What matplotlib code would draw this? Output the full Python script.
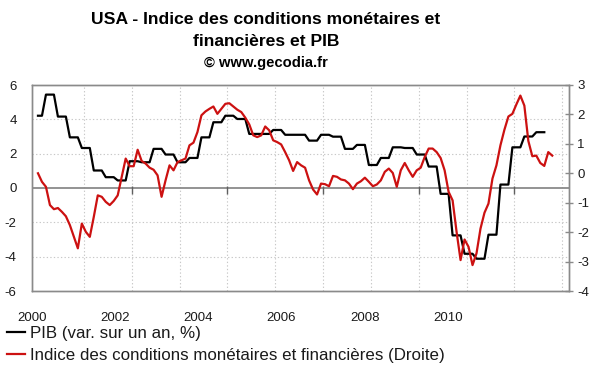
import numpy as np
import matplotlib
matplotlib.use('Agg')
import matplotlib.pyplot as plt
from matplotlib.lines import Line2D

# ---- data -------------------------------------------------------------
# PIB, year-on-year % change, quarterly 2000Q1 .. 2010Q3 (left axis)
pib_quarterly = [
    4.21, 5.44, 4.16, 2.95,
    2.33, 1.02, 0.63, 0.44,
    1.56, 1.50, 2.28, 1.95,
    1.50, 1.75, 2.95, 3.83,
    4.21, 4.02, 3.15, 3.15,
    3.38, 3.10, 3.10, 2.76,
    3.10, 2.99, 2.28, 2.51,
    1.34, 1.75, 2.37, 2.33,
    1.95, 1.25, -0.34, -2.76,
    -3.83, -4.12, -2.72, 0.20,
    2.37, 3.00, 3.25,
]

# Indice des conditions monetaires et financieres, monthly (right axis)
icmf_monthly = [
    0.00, -0.29, -0.46, -1.08, -1.22, -1.18, -1.31, -1.46, -1.76, -2.16,
    -2.55, -1.71, -1.99, -2.16, -1.48, -0.75, -0.80, -0.97, -1.08, -0.94,
    -0.75, -0.12, 0.50, 0.24, 0.24, 0.80, 0.42, 0.33, 0.19, 0.12,
    -0.07, -0.80, -0.24, 0.27, 0.10, 0.38, 0.44, 0.50, 0.95, 1.04,
    1.40, 1.97, 2.10, 2.19, 2.27, 2.02, 2.19, 2.36, 2.38, 2.27,
    2.16, 2.08, 1.89, 1.66, 1.29, 1.23, 1.29, 1.59, 1.46, 1.12,
    1.06, 0.98, 0.72, 0.44, 0.08, 0.38, 0.27, 0.19, -0.24, -0.55,
    -0.72, -0.35, -0.37, -0.44, -0.09, -0.12, -0.21, -0.24, -0.35, -0.54,
    -0.35, -0.27, -0.15, -0.29, -0.44, -0.38, -0.24, 0.05, 0.16, 0.01,
    -0.46, 0.10, 0.35, 0.10, -0.12, 0.10, 0.19, 0.55, 0.84, 0.84,
    0.72, 0.52, 0.10, -0.63, -0.92, -1.99, -2.95, -2.25, -2.50, -3.12,
    -2.72, -1.88, -1.34, -1.03, -0.18, 0.27, 0.95, 1.48, 1.93, 2.02,
    2.34, 2.64, 2.30, 1.10, 0.58, 0.60, 0.35, 0.25, 0.72, 0.60,
]

year_labels = ['2000', '2002', '2004', '2006', '2008', '2010']
left_ticks = [-6, -4, -2, 0, 2, 4, 6]
right_ticks = [-4, -3, -2, -1, 0, 1, 2, 3]

series_names = ['PIB (var. sur un an, %)',
                'Indice des conditions monétaires et financières (Droite)']
title_lines = ['USA - Indice des conditions monétaires et',
               'financières et PIB']
credit = '© www.gecodia.fr'

# ---- style ------------------------------------------------------------
plt.rcParams['font.family'] = ['Liberation Sans', 'DejaVu Sans']
BLACK = '#000000'
RED = '#cc1111'
GRID = '#c8c8c8'
FRAME = '#8a8a8a'
TXT = '#1a1a1a'

pib_monthly = np.repeat(pib_quarterly, 3)[1:]
m_pib = np.arange(len(pib_monthly))
m_icmf = np.arange(len(icmf_monthly))

W, H = 600, 372
fig = plt.figure(figsize=(W / 100, H / 100), dpi=100)
fig.patch.set_facecolor('white')
ax = fig.add_axes([32 / W, 1 - 291 / H, (569 - 32) / W, (291 - 85) / H])
ax2 = ax.twinx()

ax.set_xlim(-0.5, 133.2)
ax.set_ylim(-6, 6)
ax2.set_ylim(-4, 3)

# grid: yearly vertical dotted lines, horizontal dotted lines
for gx in np.arange(11.5, 133, 12):
    ax.axvline(gx, color=GRID, lw=0.8, ls=(0, (1.2, 2.0)), zorder=1)
for gy in [-4, -2, 2, 4]:
    ax.axhline(gy, color=GRID, lw=0.8, ls=(0, (1.2, 2.0)), zorder=1)
ax.axhline(0, color=FRAME, lw=1.3, zorder=2)
ax.vlines(np.arange(23.5, 133, 24), -0.36, 0.12, color='#606060', lw=1.0, zorder=2)

l1, = ax.plot(m_pib, pib_monthly, color=BLACK, lw=1.6, zorder=3)
l2, = ax2.plot(m_icmf, icmf_monthly, color=RED, lw=1.6, zorder=3)

for a in (ax, ax2):
    for s in a.spines.values():
        s.set_color(FRAME)
        s.set_linewidth(1.0)

ax.set_yticks(left_ticks)
ax.set_yticklabels([str(v) for v in left_ticks])
ax.tick_params(axis='y', direction='in', length=0, pad=11, labelsize=9.5,
               labelcolor=TXT)
ax2.set_yticks(right_ticks)
ax2.set_yticklabels([str(v) for v in right_ticks])
ax2.tick_params(axis='y', direction='inout', length=6, width=1.0, color=FRAME,
                pad=3, labelsize=9.5, labelcolor=TXT)

label_pos = np.linspace(-1.5, 102.8, len(year_labels))
ax.set_xticks(label_pos)
ax.set_xticklabels(year_labels)
ax.tick_params(axis='x', length=0, pad=15, labelsize=9.5, labelcolor=TXT)

# titles
TX = 266 / W
fig.text(TX, 1 - 20 / H, title_lines[0], ha='center', va='center',
         fontsize=12.6, fontweight='bold', color=BLACK)
fig.text(TX, 1 - 41 / H, title_lines[1], ha='center', va='center',
         fontsize=12.6, fontweight='bold', color=BLACK)
fig.text(TX, 1 - 63 / H, credit, ha='center', va='center',
         fontsize=10.6, fontweight='bold', color=BLACK)

# legend
handles = [Line2D([], [], color=BLACK, lw=1.6), Line2D([], [], color=RED, lw=1.6)]
fig.legend(handles, series_names, loc='upper left',
           bbox_to_anchor=(5 / W, 1 - 324 / H), frameon=False,
           fontsize=12.2, handlelength=1.1, handletextpad=0.25,
           labelspacing=0.45, borderaxespad=0, borderpad=0.1,
           labelcolor=TXT)

fig.savefig('out.png', dpi=100)
